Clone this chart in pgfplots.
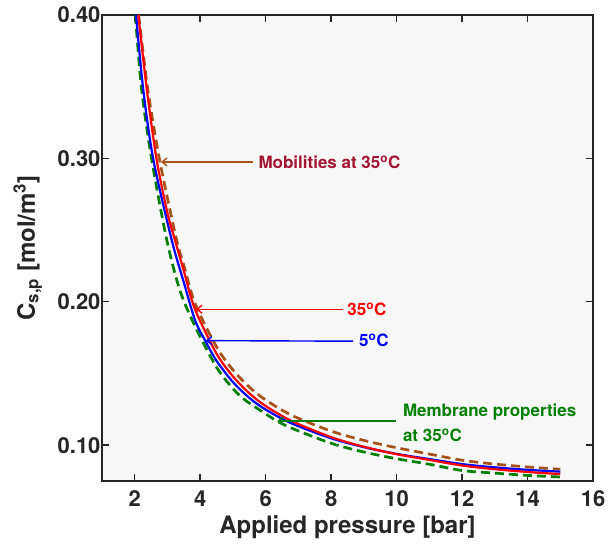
\documentclass[border=0pt]{standalone}
\usepackage{fontspec}
\setmainfont{TeX Gyre Heros}
\usepackage{pgfplots}
\pgfplotsset{compat=1.18}
\usetikzlibrary{arrows.meta}
\definecolor{axgray}{RGB}{38,38,38}
\definecolor{bgray}{RGB}{247,247,247}
\definecolor{brownd}{RGB}{166,82,25}
\definecolor{greend}{RGB}{0,128,0}
\definecolor{crimson}{RGB}{162,20,47}
\begin{document}
\begin{tikzpicture}
\begin{axis}[
  scale only axis, width=491pt, height=466pt,
  xmin=1, xmax=16, ymin=0.075, ymax=0.40,
  xtick={2,4,6,8,10,12,14,16}, ytick={0.1,0.2,0.3,0.4},
  /pgf/number format/assume math mode=true,
  y tick label style={/pgf/number format/fixed, /pgf/number format/fixed zerofill, /pgf/number format/precision=2, xshift=2pt},
  xticklabel style={anchor=center, yshift=-18pt},
  tick align=inside, tick pos=both, major tick length=7pt,
  axis line style={axgray, line width=1.8pt},
  every tick/.style={axgray, line width=1.4pt},
  axis background/.style={fill=bgray},
  tick label style={font=\fontsize{22}{26}\selectfont\bfseries, text=axgray},
  label style={font=\fontsize{24}{28}\selectfont\bfseries, text=axgray},
  xlabel={Applied pressure [bar]},
  ylabel={C\textsubscript{s,p} [mol/m\textsuperscript{3}]},
  xlabel style={at={(axis description cs:0.5,-0.0987)}, anchor=center},
  ylabel style={at={(axis description cs:-0.151,0.5)}, anchor=center},
  clip=false,
]
\coordinate (ll) at (rel axis cs:0,0);
\coordinate (ur) at (rel axis cs:1,1);
% Mobilities at 35C (brown dashed)
\addplot[brownd, line width=2.7pt, dash pattern=on 9pt off 5pt, smooth, tension=0.5] coordinates {
(2.12,0.400) (2.40,0.348) (2.77,0.2977) (3.28,0.2431) (3.5,0.2255) (3.84,0.1990) (4.5,0.1685) (5.0,0.1525) (5.5,0.1405) (6.0,0.1315) (6.8,0.1208) (8,0.1098) (9,0.1033) (10,0.0982) (11,0.0938) (12,0.0895) (13,0.0868) (14,0.0848) (15,0.0832)};
% Membrane properties at 35C (green dashed)
\addplot[greend, line width=2.7pt, dash pattern=on 9pt off 5pt, smooth, tension=0.5] coordinates {
(2.02,0.400) (2.21,0.348) (2.52,0.299) (2.98,0.243) (3.38,0.208) (3.84,0.1830) (4.5,0.1543) (5.0,0.1395) (5.37,0.1315) (6.0,0.1218) (6.34,0.1169) (6.8,0.1118) (8,0.1013) (9,0.0952) (10,0.0905) (11,0.0867) (12,0.0823) (13,0.0805) (14,0.0789) (15,0.0778)};
% 5C (blue)
\addplot[blue, line width=2.2pt, smooth, tension=0.5] coordinates {
(2.04,0.400) (2.26,0.348) (2.57,0.299) (3.13,0.243) (3.5,0.2135) (3.84,0.1873) (4.15,0.1730) (4.5,0.1588) (5.0,0.1440) (5.5,0.1330) (6.0,0.1248) (6.8,0.1151) (8,0.1048) (9,0.0986) (10,0.0939) (11,0.0903) (12,0.0868) (13,0.0845) (14,0.0828) (15,0.0815)};
% 35C (red)
\addplot[red, line width=2.2pt, smooth, tension=0.5] coordinates {
(2.11,0.400) (2.37,0.348) (2.67,0.299) (3.0,0.262) (3.23,0.243) (3.5,0.2215) (3.84,0.1948) (4.5,0.1638) (5.0,0.1480) (5.5,0.1362) (6.0,0.1273) (6.8,0.1168) (8,0.1056) (9,0.0989) (10,0.0937) (11,0.0897) (12,0.0858) (13,0.0832) (14,0.0813) (15,0.0798)};
% annotations
\draw[brownd, line width=1.4pt, -{Straight Barb[length=5pt,width=8pt]}] (axis cs:5.61,0.2975) -- (axis cs:2.80,0.2975);
\node[anchor=base west, inner sep=0pt, text=crimson, font=\fontsize{17}{20}\selectfont\bfseries] at (axis cs:5.775,0.2931) {Mobilities at 35\textsuperscript{o}C};
\draw[red, line width=1.4pt, -{Straight Barb[length=5pt,width=8pt]}] (axis cs:8.36,0.1948) -- (axis cs:3.87,0.1948);
\node[anchor=base west, inner sep=0pt, text=red, font=\fontsize{17}{20}\selectfont\bfseries] at (axis cs:8.49,0.1903) {35\textsuperscript{o}C};
\draw[blue, line width=1.4pt, -{Straight Barb[length=5pt,width=8pt]}] (axis cs:8.67,0.1725) -- (axis cs:4.17,0.1729);
\node[anchor=base west, inner sep=0pt, text=blue, font=\fontsize{17}{20}\selectfont\bfseries] at (axis cs:8.85,0.1687) {5\textsuperscript{o}C};
\draw[greend, line width=1.4pt, -{Straight Barb[length=5pt,width=8pt]}] (axis cs:9.98,0.1169) -- (axis cs:6.36,0.1169);
\node[anchor=base west, inner sep=0pt, text=greend, font=\fontsize{17}{20}\selectfont\bfseries] at (axis cs:10.19,0.1197) {Membrane properties};
\node[anchor=base west, inner sep=0pt, text=greend, font=\fontsize{17}{20}\selectfont\bfseries] at (axis cs:10.19,0.1023) {at 35\textsuperscript{o}C};
\end{axis}
\pgfresetboundingbox
\path[use as bounding box] ([xshift=-102pt,yshift=-63pt]ll) rectangle ([xshift=15pt,yshift=15pt]ur);
\end{tikzpicture}
\end{document}
